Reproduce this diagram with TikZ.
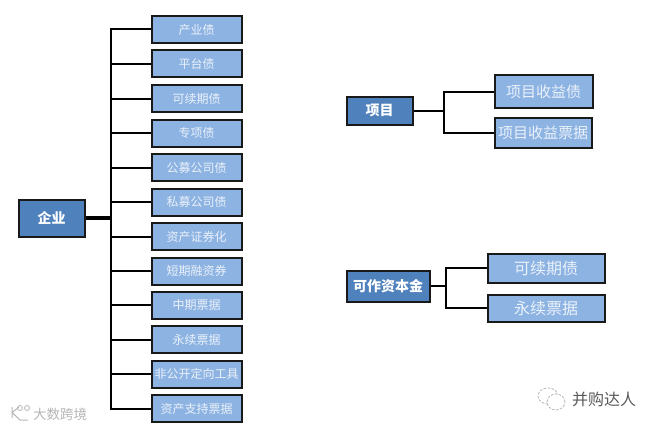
\documentclass[tikz,border=0pt]{standalone}
\usepackage{fontspec}
\setmainfont{Noto Sans CJK SC}

\definecolor{rootblue}{HTML}{4F81BD}
\definecolor{leafblue}{HTML}{8DB3E2}
\definecolor{leaftext}{HTML}{EAF1FA}
\definecolor{markgray}{HTML}{B5B5B5}

\begin{document}
\begin{tikzpicture}[x=1pt, y=-1pt]
		\tikzset{rootbox/.style={shape = rectangle, draw = black!90, line width = 2pt, fill = rootblue, text = white, font = \fontsize{14}{16}\selectfont\bfseries, inner sep = 0pt}}
		\tikzset{leafbox/.style={shape = rectangle, draw = black!90, line width = 2pt, fill = leafblue, text = leaftext, font = \fontsize{12}{14}\selectfont, inner sep = 0pt, minimum width = 90pt, minimum height = 27pt}}
		\tikzset{bigleaf/.style={leafbox, font = \fontsize{15}{17}\selectfont}}
		\tikzset{edge/.style={draw = black, line width = 2pt}}
		\tikzset{trunk/.style={draw = black, line width = 3.2pt}}
		\useasboundingbox (0, 0) rectangle (656, 428);
		%company
		\node[rootbox, minimum width = 66pt, minimum height = 37pt] (company) at (51.5, 218) {企业};
		\node[leafbox] (c1) at (196.5, 29.5) {产业债};
		\node[leafbox] (c2) at (196.5, 64) {平台债};
		\node[leafbox] (c3) at (196.5, 98.5) {可续期债};
		\node[leafbox] (c4) at (196.5, 133) {专项债};
		\node[leafbox] (c5) at (196.5, 167.5) {公募公司债};
		\node[leafbox] (c6) at (196.5, 202) {私募公司债};
		\node[leafbox] (c7) at (196.5, 236.5) {资产证券化};
		\node[leafbox] (c8) at (196.5, 271) {短期融资券};
		\node[leafbox] (c9) at (196.5, 305) {中期票据};
		\node[leafbox] (c10) at (196.5, 339.5) {永续票据};
		\node[leafbox] (c11) at (196.5, 374) {非公开定向工具};
		\node[leafbox] (c12) at (196.5, 408.7) {资产支持票据};
		\coordinate (cjoin) at (110.5, 218);
		%project
		\node[rootbox, minimum width = 66pt, minimum height = 28pt] (project) at (379.5, 110.5) {项目};
		\node[bigleaf, minimum width = 98pt, minimum height = 33pt] (p1) at (543.5, 91.7) {项目收益债};
		\node[bigleaf, minimum width = 97pt, minimum height = 30pt] (p2) at (543, 133.3) {项目收益票据};
		\coordinate (pjoin) at (444, 110.5);
		%capital
		\node[rootbox, minimum width = 83pt, minimum height = 31pt] (capital) at (388, 286) {可作资本金};
		\node[bigleaf, font = \fontsize{16}{18}\selectfont, minimum width = 117pt, minimum height = 29pt] (k1) at (546, 268) {可续期债};
		\node[bigleaf, font = \fontsize{16}{18}\selectfont, minimum width = 117pt, minimum height = 27pt] (k2) at (546, 308) {永续票据};
		\coordinate (kjoin) at (445.7, 286);
		%edges
		\draw[trunk] (company) -- (cjoin);
		\draw[edge] (cjoin) |- (c1);
		\draw[edge] (cjoin) |- (c2);
		\draw[edge] (cjoin) |- (c3);
		\draw[edge] (cjoin) |- (c4);
		\draw[edge] (cjoin) |- (c5);
		\draw[edge] (cjoin) |- (c6);
		\draw[edge] (cjoin) |- (c7);
		\draw[edge] (cjoin) |- (c8);
		\draw[edge] (cjoin) |- (c9);
		\draw[edge] (cjoin) |- (c10);
		\draw[edge] (cjoin) |- (c11);
		\draw[edge] (cjoin) |- (c12);
		\draw[edge] (project) -- (pjoin);
		\draw[edge] (pjoin) |- (p1);
		\draw[edge] (pjoin) |- (p2);
		\draw[edge] (capital) -- (kjoin);
		\draw[edge] (kjoin) |- (k1);
		\draw[edge] (kjoin) |- (k2);
		%marks
		\node[text = markgray, font = \fontsize{13.5}{15}\selectfont, inner sep = 0pt] (leftmark) at (60, 414) {大数跨境};
		\node[text = black!65, font = \fontsize{16}{18}\selectfont, inner sep = 0pt] (rightmark) at (604, 399) {并购达人};
		\draw[markgray, line width = 1pt] (12, 407) -- (12, 418) (12, 412.5) -- (19, 407) (12, 412.5) -- (20, 420) -- (28, 420);
		\draw[markgray, line width = 0.8pt] (20, 408) circle (2.5pt) (27, 408) circle (2.5pt);
		\draw[markgray, line width = 0.8pt, dash pattern = on 2.5pt off 1.5pt] (548, 396) ellipse (10pt and 8pt);
		\draw[markgray, line width = 0.8pt, fill = white, dash pattern = on 2.5pt off 1.5pt] (556, 402) ellipse (9pt and 8pt);
\end{tikzpicture}
\end{document}
